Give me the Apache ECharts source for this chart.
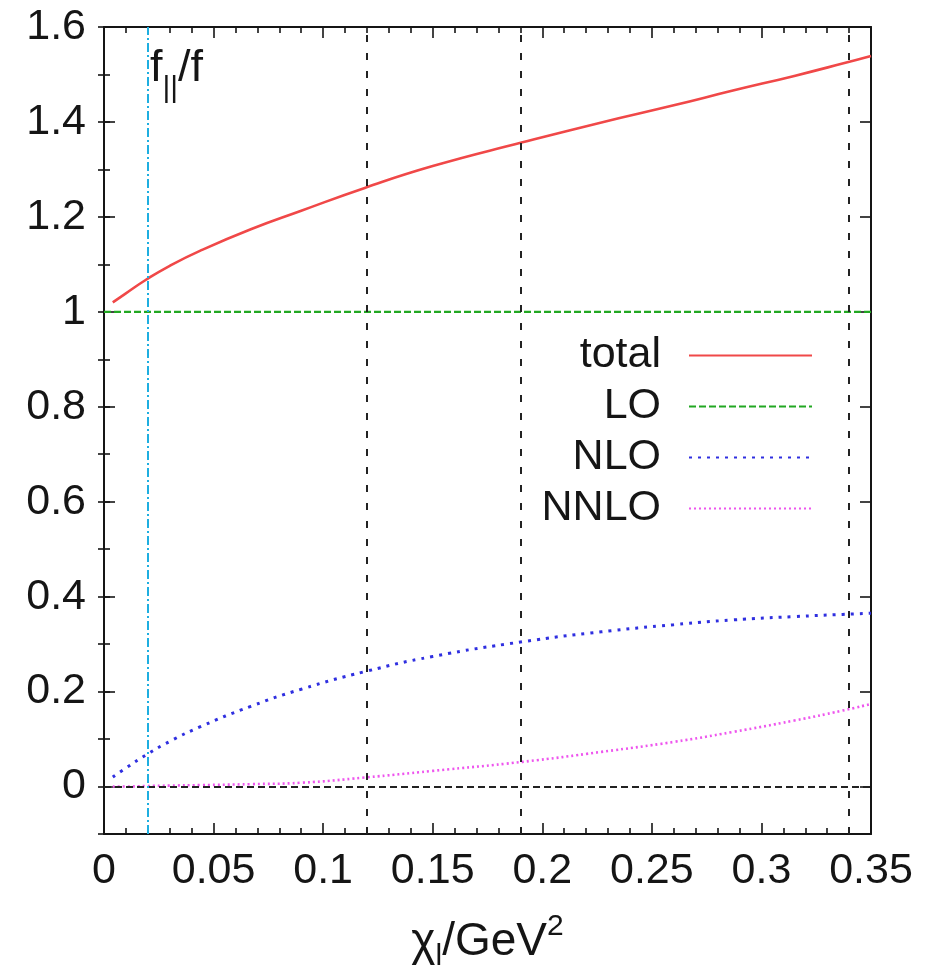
<!DOCTYPE html>
<html>
<head>
<meta charset="utf-8">
<script src="https://cdn.jsdelivr.net/npm/echarts@6/dist/echarts.min.js"></script>
<style>
  html, body { margin: 0; padding: 0; background: #ffffff; }
  #chart { width: 943px; height: 977px; }
</style>
</head>
<body>
<div id="chart"></div>
<script>
// chi_l in GeV^2 where the curves are sampled
const chiValues = [0.004, 0.01, 0.019, 0.03, 0.044, 0.067, 0.09, 0.119, 0.15, 0.191, 0.227, 0.26, 0.287, 0.315, 0.337, 0.35];
// f_||/f contributions
const totalValues = [1.020, 1.039, 1.067, 1.097, 1.129, 1.174, 1.213, 1.261, 1.307, 1.357, 1.399, 1.435, 1.466, 1.497, 1.523, 1.539];
const nloValues   = [0.020, 0.039, 0.066, 0.095, 0.126, 0.169, 0.205, 0.242, 0.274, 0.305, 0.326, 0.341, 0.351, 0.358, 0.3625, 0.365];
const nnloValues  = [0.000, 0.000, 0.001, 0.002, 0.003, 0.005, 0.008, 0.019, 0.033, 0.052, 0.073, 0.094, 0.115, 0.139, 0.160, 0.174];
const loChi = [0, 0.35];
const loValues = [1, 1];

// reference positions on the chi axis
const referenceChi = [0.119, 0.1914, 0.3373];
const cutoffChi = 0.0188;

// axis ticks
const yMajorTicks = [0, 0.2, 0.4, 0.6, 0.8, 1.0, 1.2, 1.4, 1.6];
const yMinorTicks = [-0.1, 0, 0.1, 0.2, 0.3, 0.4, 0.5, 0.6, 0.7, 0.8, 0.9, 1.0, 1.1, 1.2, 1.3, 1.4, 1.5, 1.6];
const seriesNames = ['total', 'LO', 'NLO', 'NNLO'];

const pairs = (xs, ys) => xs.map((x, i) => [x, ys[i]]);
const FONT = '"Liberation Sans", Arial, Helvetica, sans-serif';
const INK = '#151515';

function fmt(v) {
  return String(Math.round(v * 100) / 100);
}

const baseX = {
  type: 'value', min: 0, max: 0.35, interval: 0.05,
  axisLine: { show: true, onZero: false, lineStyle: { color: INK, width: 2 } },
  axisTick: { show: true, inside: true, length: 11, lineStyle: { color: INK, width: 1.6 } },
  minorTick: { show: true, splitNumber: 5, length: 6, lineStyle: { color: INK, width: 1.6 } },
  splitLine: { show: false }, minorSplitLine: { show: false }
};

const yRange = { type: 'value', min: -0.1, max: 1.6, splitLine: { show: false } };

const chart = echarts.init(document.getElementById('chart'), null, { renderer: 'canvas' });

chart.setOption({
  animation: false,
  backgroundColor: '#ffffff',
  grid: { left: 104, right: 72, top: 27, bottom: 140, containLabel: false },
  xAxis: [
    Object.assign({}, baseX, {
      position: 'bottom',
      axisLabel: { show: true, fontSize: 43, fontFamily: FONT, color: INK, margin: 16, formatter: fmt },
      name: '{m|χ}{s|l}{m|/GeV}{p|2}',
      nameLocation: 'middle', nameGap: 78,
      nameTextStyle: {
        rich: {
          m: { fontSize: 46, fontFamily: FONT, color: INK, lineHeight: 60, verticalAlign: 'middle' },
          s: { fontSize: 30, fontFamily: FONT, color: INK, lineHeight: 60, verticalAlign: 'bottom' },
          p: { fontSize: 30, fontFamily: FONT, color: INK, lineHeight: 60, verticalAlign: 'top' }
        }
      }
    }),
    Object.assign({}, baseX, { position: 'top', axisLabel: { show: false } })
  ],
  yAxis: [
    Object.assign({}, yRange, {
      position: 'left',
      axisLine: { show: true, onZero: false, lineStyle: { color: INK, width: 2 } },
      axisTick: { show: true, inside: true, length: 11, customValues: yMajorTicks, lineStyle: { color: INK, width: 1.6 } },
      axisLabel: { show: true, customValues: yMajorTicks, fontSize: 43, fontFamily: FONT, color: INK, margin: 18, formatter: fmt }
    }),
    Object.assign({}, yRange, {
      position: 'left',
      axisLine: { show: false },
      axisTick: { show: true, inside: true, length: 6, customValues: yMinorTicks, lineStyle: { color: INK, width: 1.6 } },
      axisLabel: { show: false }
    }),
    Object.assign({}, yRange, {
      position: 'right',
      axisLine: { show: true, onZero: false, lineStyle: { color: INK, width: 2 } },
      axisTick: { show: true, inside: true, length: 11, customValues: yMajorTicks, lineStyle: { color: INK, width: 1.6 } },
      axisLabel: { show: false }
    }),
    Object.assign({}, yRange, {
      position: 'right',
      axisLine: { show: false },
      axisTick: { show: true, inside: true, length: 6, customValues: yMinorTicks, lineStyle: { color: INK, width: 1.6 } },
      axisLabel: { show: false }
    })
  ],
  legend: {
    data: seriesNames,
    orient: 'vertical',
    align: 'right',
    right: 125,
    top: 329,
    itemWidth: 123,
    itemHeight: 14,
    itemGap: 8,
    selectedMode: false,
    // line samples only, no marker dot
    itemStyle: { opacity: 0 },
    textStyle: { fontSize: 43, fontFamily: FONT, color: INK, lineHeight: 40, padding: [0, 23, 0, 0] }
  },
  graphic: [{
    type: 'text',
    left: 150,
    top: 46,
    style: {
      text: '{m|f}{s|||}{m|/f}',
      rich: {
        m: { fontSize: 45, fontFamily: FONT, fill: INK, lineHeight: 58, verticalAlign: 'top' },
        s: { fontSize: 30, fontFamily: FONT, fill: INK, lineHeight: 58, verticalAlign: 'bottom' }
      }
    }
  }],
  series: [
    {
      name: 'total', type: 'line', data: pairs(chiValues, totalValues),
      symbol: 'none', smooth: true, z: 4,
      lineStyle: { color: '#f04848', width: 2.6, type: 'solid' },
      itemStyle: { color: '#f04848' }
    },
    {
      name: 'LO', type: 'line', data: pairs(loChi, loValues),
      symbol: 'none', z: 3,
      lineStyle: { color: '#22a822', width: 2.2, type: [7, 3] },
      itemStyle: { color: '#22a822' }
    },
    {
      name: 'NLO', type: 'line', data: pairs(chiValues, nloValues),
      symbol: 'none', smooth: true, z: 3,
      lineStyle: { color: '#2f2fe0', width: 3, type: [3, 6] },
      itemStyle: { color: '#2f2fe0' }
    },
    {
      name: 'NNLO', type: 'line', data: pairs(chiValues, nnloValues),
      symbol: 'none', smooth: true, z: 3,
      lineStyle: { color: '#ee55ee', width: 2.6, type: [2, 3] },
      itemStyle: { color: '#ee55ee' }
    },
    {
      name: 'guides', type: 'line', data: [], z: 2,
      markLine: {
        silent: true, symbol: ['none', 'none'], animation: false,
        label: { show: false },
        data: referenceChi.map(v => ({
          xAxis: v, lineStyle: { color: '#222222', width: 2, type: [7, 11] }
        })).concat([
          { yAxis: 0, lineStyle: { color: '#222222', width: 2, type: [7, 4] } },
          { xAxis: cutoffChi, lineStyle: { color: '#1eaee0', width: 2, type: [9, 3, 2, 3] } }
        ])
      }
    }
  ]
});
</script>
</body>
</html>
